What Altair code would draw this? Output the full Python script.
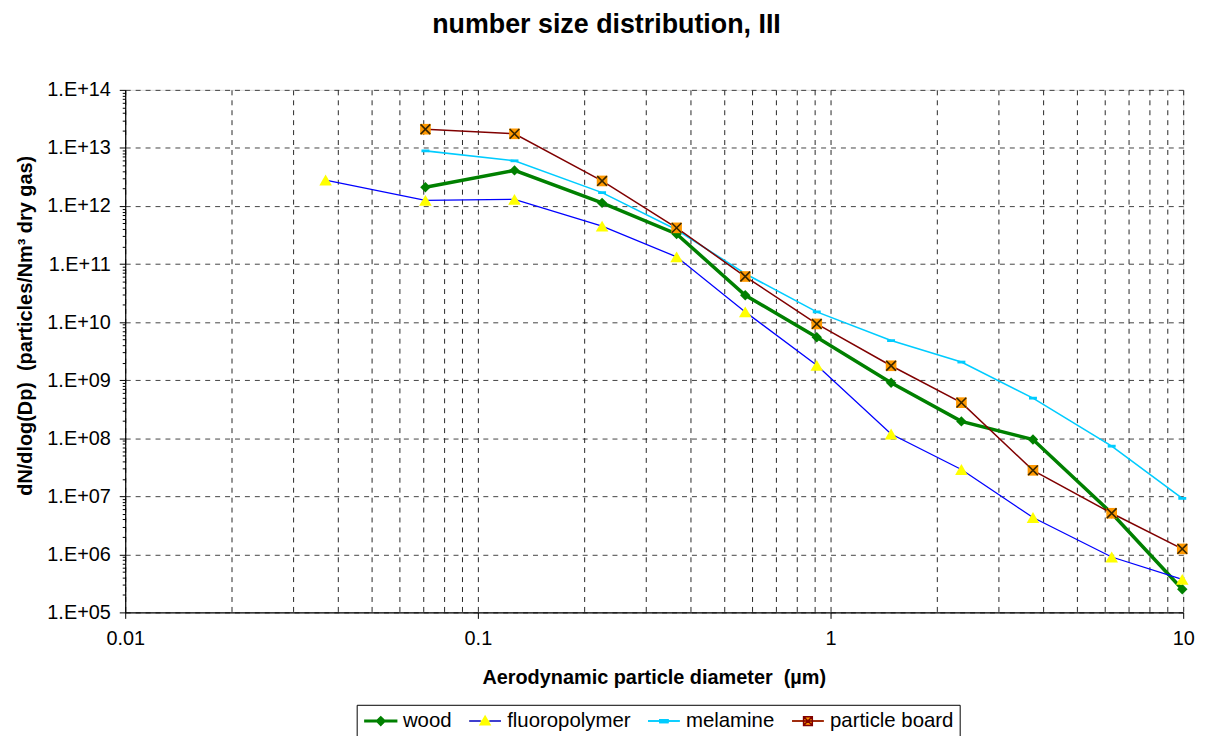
import altair as alt
import pandas as pd

# ---- data ----
series_order = ["wood", "fluoropolymer", "melamine", "particle board"]

dp_fluoro = [0.037, 0.071, 0.127, 0.225, 0.366, 0.573, 0.914, 1.485, 2.35, 3.75, 6.27, 9.94]
dp_other = [0.071, 0.127, 0.225, 0.366, 0.573, 0.914, 1.485, 2.35, 3.75, 6.27, 9.94]

wood = [2.1e12, 4.1e12, 1.13e12, 3.3e11, 2.9e10, 5.5e9, 9.0e8, 1.95e8, 9.5e7, 5.1e6, 2.5e5]
fluoropolymer = [2.8e12, 1.25e12, 1.3e12, 4.5e11, 1.33e11, 1.5e10, 1.8e9, 1.18e8, 2.9e7, 4.3e6, 9.0e5, 3.7e5]
melamine = [8.9e12, 6.0e12, 1.7e12, 3.9e11, 6.8e10, 1.5e10, 4.8e9, 2.05e9, 4.9e8, 7.3e7, 9.2e6]
particle_board = [2.1e13, 1.75e13, 2.7e12, 4.2e11, 6.1e10, 9.3e9, 1.77e9, 4.1e8, 2.8e7, 5.1e6, 1.24e6]

x_ticks = [0.01, 0.02, 0.03, 0.04, 0.05, 0.06, 0.07, 0.08, 0.09,
           0.1, 0.2, 0.3, 0.4, 0.5, 0.6, 0.7, 0.8, 0.9,
           1, 2, 3, 4, 5, 6, 7, 8, 9, 10]
y_ticks = [k * 10 ** n for n in range(5, 14) for k in range(1, 10)] + [10 ** 14]

line_colors = ["#008000", "#0000FF", "#00CCFF", "#800000"]
line_widths = [3.5, 1.3, 1.6, 1.5]
marker_fill = ["#008000", "#FFFF00", "#00CCFF", "#FF9900"]

# legend symbols: line + marker outline (drawn on top)
legend_paths = [
    "M-1,-0.1H3V0.1H-1ZM1,-0.55L1.55,0L1,0.55L0.45,0Z",
    "M-1,0H0.45M1.55,0H3",
    "M-1,0H3M0.5,-0.18H1.5V0.18H0.5Z",
    "M-1,0H3M0.45,-0.55H1.55V0.55H0.45ZM0.5,-0.5L1.5,0.5M0.5,0.5L1.5,-0.5",
]
# legend symbols: marker interiors (drawn underneath, painted with nested strokes);
# each carries the same horizontal extent as the symbol drawn over it
legend_fill_paths = [
    "M-1,0H3M1,-0.4L1.4,0L1,0.4L0.6,0ZM1,-0.2L1.2,0L1,0.2L0.8,0Z",
    "M-1,0H3M1,-0.62L1.62,0.45L0.38,0.45ZM1,-0.442L1.465,0.361L0.535,0.361Z"
    "M1,-0.264L1.31,0.272L0.69,0.272ZM1,-0.085L1.155,0.182L0.845,0.182Z",
    "M-1,0H3M0.5,-0.18H1.5V0.18H0.5Z",
    "M-1,0H3M0.58,-0.42H1.42V0.42H0.58ZM0.72,-0.28H1.28V0.28H0.72ZM0.86,-0.14H1.14V0.14H0.86Z",
]

rows = []
for name, xs, ys in [("wood", dp_other, wood),
                     ("fluoropolymer", dp_fluoro, fluoropolymer),
                     ("melamine", dp_other, melamine),
                     ("particle board", dp_other, particle_board)]:
    for xv, yv in zip(xs, ys):
        rows.append({"series": name, "dp": xv, "n": yv})
df = pd.DataFrame(rows)

FONT = "Liberation Sans"
MAJ = "abs(log(datum.value)/LN10 - round(log(datum.value)/LN10)) < 0.001"
EXP = "round(log(datum.value)/LN10)"
NB = "\u00a0"

x_enc = alt.X(
    "dp:Q",
    scale=alt.Scale(type="log", domain=[0.01, 10], nice=False),
    axis=alt.Axis(
        values=x_ticks,
        title=f"Aerodynamic particle diameter {NB}(µm)",
        titleFont=FONT, titleFontSize=20, titleFontWeight="bold", titleColor="black",
        titleX=532, titleY=66, titleAlign="center", titleBaseline="middle",
        labelExpr=f"({MAJ}) ? format(datum.value, '~g') : ''",
        labelFont=FONT, labelFontSize=20, labelColor="black", labelPadding=10,
        labelFlush=False, labelOverlap=False,
        tickSize={"condition": {"test": MAJ, "value": 6}, "value": 0},
        tickColor="black",
        domainColor="black", domainWidth=1.2,
        grid=True, gridColor="#000000", gridDash=[5, 5], gridWidth=1, gridOpacity=0.85,
    ),
)
y_enc = alt.Y(
    "n:Q",
    scale=alt.Scale(type="log", domain=[1e5, 1e14], nice=False),
    axis=alt.Axis(
        values=y_ticks,
        title=f"dN/dlog(Dp) {NB}(particles/Nm³ dry gas)",
        titleFont=FONT, titleFontSize=20, titleFontWeight="bold", titleColor="black",
        titleX=-100, titleY=237, titleAlign="center", titleBaseline="middle", titleAngle=270,
        labelExpr=f"({MAJ}) ? '1.E+' + ({EXP} < 10 ? '0' : '') + {EXP} : ''",
        labelFont=FONT, labelFontSize=20, labelColor="black", labelPadding=9,
        labelFlush=False, labelOverlap=False,
        tickSize={"condition": {"test": MAJ, "value": 6}, "value": 3},
        tickColor="black",
        domainColor="black", domainWidth=1.2,
        grid=True, gridColor="#222222", gridDash=[5, 5], gridWidth=1,
        gridOpacity={"condition": {"test": MAJ, "value": 0.85}, "value": 0},
    ),
)

base = alt.Chart(df)


def one(name):
    return base.transform_filter(alt.datum.series == name)


layers = []
for i, name in enumerate(series_order):
    ln = one(name).mark_line(color=line_colors[i], strokeWidth=line_widths[i])
    if i == 0:
        ln = ln.encode(x=x_enc, y=y_enc)
    else:
        ln = ln.encode(x="dp:Q", y="n:Q")
    layers.append(ln)

layers.append(one("wood").mark_point(
    shape="diamond", filled=True, color="#008000", size=110, opacity=1
).encode(x="dp:Q", y="n:Q"))
layers.append(one("fluoropolymer").mark_point(
    shape="triangle-up", filled=True, color="#FFFF00", size=160, opacity=1
).encode(x="dp:Q", y="n:Q"))
layers.append(one("melamine").mark_point(
    shape="M-1,-0.35H1V0.35H-1Z", filled=True, color="#00CCFF", size=64, opacity=1
).encode(x="dp:Q", y="n:Q"))
layers.append(one("particle board").mark_point(
    shape="square", filled=True, color="#FF9900", size=115, opacity=1
).encode(x="dp:Q", y="n:Q"))
layers.append(one("particle board").mark_point(
    shape="M-1,-1L1,1M-1,1L1,-1", filled=False, color="#3a2600", size=95, opacity=1, strokeWidth=1.6
).encode(x="dp:Q", y="n:Q"))

common = dict(
    title=None, orient="none", legendX=233, legendY=619, direction="horizontal",
    symbolSize=256, symbolStrokeWidth=1.5, labelOffset=20, columnPadding=14, padding=6,
    labelFont=FONT, labelFontSize=20.5, symbolOpacity=1,
)
leg_fill = alt.Legend(labelColor="white", labelOpacity=0, **common)
leg_line = alt.Legend(strokeColor="black", labelColor="black", **common)

# underneath: marker interiors
layers.append(base.mark_point(size=0, opacity=1, strokeWidth=1.5, filled=False).encode(
    x="dp:Q", y="n:Q",
    shape=alt.Shape("series:N", scale=alt.Scale(domain=series_order, range=legend_fill_paths), legend=leg_fill),
    stroke=alt.Stroke("series:N", scale=alt.Scale(domain=series_order, range=marker_fill), legend=leg_fill),
))
# on top: lines and outlines
layers.append(base.mark_point(size=0, opacity=1, strokeWidth=1.5, filled=False).encode(
    x="dp:Q", y="n:Q",
    shape=alt.Shape("series:N", scale=alt.Scale(domain=series_order, range=legend_paths), legend=leg_line),
    stroke=alt.Stroke("series:N", scale=alt.Scale(domain=series_order, range=line_colors), legend=leg_line),
))

chart = alt.layer(*layers).resolve_scale(
    stroke="independent", shape="independent"
).properties(
    width=1065, height=526,
    autosize=alt.AutoSizeParams(type="none"),
    padding={"left": 118, "top": 80, "right": 29, "bottom": 122},
    title=alt.TitleParams(
        "number size distribution, III", font=FONT, fontSize=27, fontWeight="bold",
        color="black", anchor="middle", frame="group", dx=-48, offset=20, baseline="alphabetic",
    ),
).configure_view(
    stroke="#999999", strokeWidth=1
).configure(background="white")

chart.save("out.html", embed_options={"renderer": "svg", "actions": False})
